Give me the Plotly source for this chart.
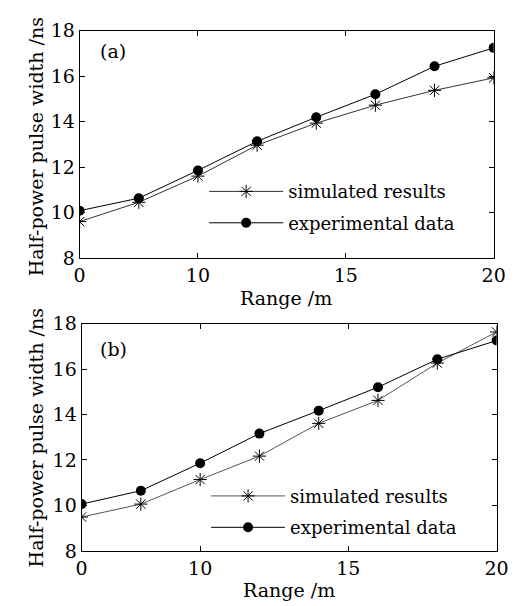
import plotly.graph_objects as go

range_m = [6, 8, 10, 12, 14, 16, 18, 20]
tick_vals = [6, 10, 15, 20]
tick_text = ["0", "10", "15", "20"]
y_ticks = [8, 10, 12, 14, 16, 18]

sim_a = [9.60, 10.45, 11.60, 12.96, 13.93, 14.72, 15.37, 15.92]
exp_a = [10.08, 10.63, 11.85, 13.13, 14.19, 15.20, 16.43, 17.24]
sim_b = [9.49, 10.06, 11.14, 12.17, 13.61, 14.62, 16.26, 17.63]
exp_b = [10.06, 10.65, 11.86, 13.16, 14.17, 15.20, 16.43, 17.25]

FONT = "DejaVu Serif"

fig = go.Figure()

def add_pair(sim, exp, xa, ya, leg, simcolor, tag):
    fig.add_trace(go.Scatter(x=range_m, y=sim, mode="lines+markers", name="simulated results",
                             xaxis=xa, yaxis=ya, legend=leg, legendgroup="sim" + tag,
                             line=dict(color=simcolor, width=1),
                             marker=dict(symbol="asterisk-open", size=11, color="black",
                                         line=dict(color="black", width=1))))
    fig.add_trace(go.Scatter(x=range_m, y=exp, mode="lines+markers", name="experimental data",
                             xaxis=xa, yaxis=ya, legend=leg, legendgroup="exp" + tag,
                             line=dict(color="black", width=1),
                             marker=dict(symbol="circle", size=10, color="black")))

add_pair(sim_a, exp_a, "x", "y", "legend", "#333333", "a")
add_pair(sim_b, exp_b, "x2", "y2", "legend2", "#555555", "b")

W, H = 517, 606
def px(x): return x / W
def py(y): return 1 - y / H

axis_common = dict(showline=True, linecolor="black", linewidth=1, mirror="ticks",
                   ticks="inside", ticklen=5, tickcolor="black", showgrid=False,
                   zeroline=False, tickfont=dict(family=FONT, size=19, color="black"))

fig.update_layout(
    width=W, height=H,
    margin=dict(l=0, r=0, t=0, b=0),
    paper_bgcolor="white", plot_bgcolor="white",
    font=dict(family=FONT, color="black"),
    xaxis=dict(domain=[px(68), px(497)], range=[6, 20], tickvals=tick_vals, ticktext=tick_text,
               anchor="y", **axis_common),
    yaxis=dict(domain=[py(248), py(12)], range=[8, 18], tickvals=y_ticks, anchor="x", **axis_common),
    xaxis2=dict(domain=[px(70), px(500)], range=[6, 20], tickvals=tick_vals, ticktext=tick_text,
                anchor="y2", **axis_common),
    yaxis2=dict(domain=[py(552), py(316)], range=[8, 18], tickvals=y_ticks, anchor="x2", **axis_common),
    legend=dict(x=px(197), y=py(160), xanchor="left", yanchor="top", bgcolor="rgba(0,0,0,0)",
                font=dict(family=FONT, size=18), itemwidth=74, tracegroupgap=5),
    legend2=dict(x=px(199), y=py(476), xanchor="left", yanchor="top", bgcolor="rgba(0,0,0,0)",
                 font=dict(family=FONT, size=18), itemwidth=74, tracegroupgap=5),
    showlegend=True,
)

ann = [
    dict(text="(a)", x=px(87), y=py(33), xanchor="left", yanchor="middle", size=19),
    dict(text="(b)", x=px(87), y=py(342), xanchor="left", yanchor="middle", size=19),
    dict(text="Range /m", x=px(282), y=py(290), xanchor="center", yanchor="middle", size=19),
    dict(text="Range /m", x=px(285), y=py(592), xanchor="center", yanchor="middle", size=19),
]
for a in ann:
    fig.add_annotation(text=a["text"], x=a["x"], y=a["y"], xref="paper", yref="paper",
                       xanchor=a["xanchor"], yanchor=a["yanchor"], showarrow=False,
                       font=dict(family=FONT, size=a["size"], color="black"))
for yc in [133, 435]:
    fig.add_annotation(text="Half-power pulse width /ns", x=px(23), y=py(yc), xref="paper", yref="paper",
                       textangle=-90, showarrow=False, xanchor="center", yanchor="middle",
                       font=dict(family=FONT, size=19, color="black"))

fig.write_html("out.html")
